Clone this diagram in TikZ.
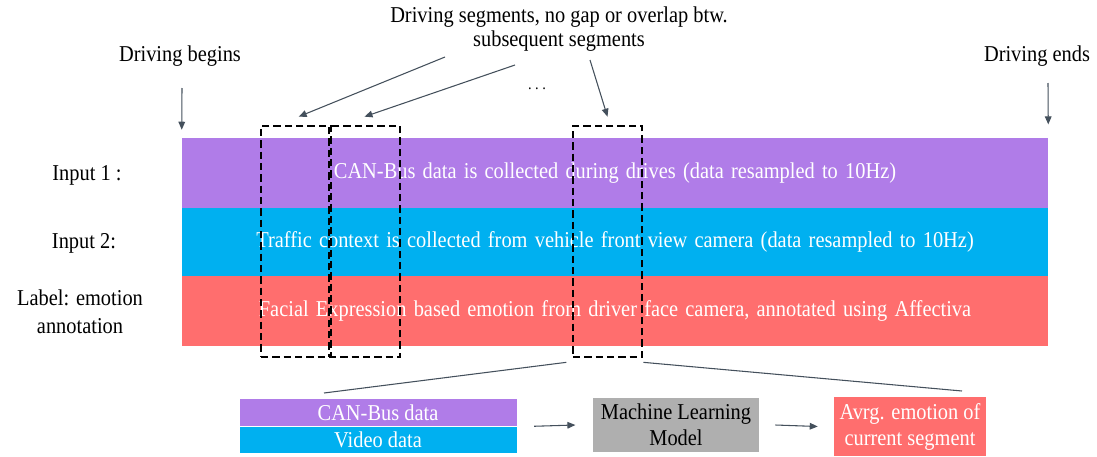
\documentclass[tikz,border=0pt]{standalone}
\usepackage{fontspec}
\setmainfont{Liberation Serif}[FakeStretch=0.9]
\usetikzlibrary{arrows.meta}

\definecolor{canpurple}{HTML}{B07CE8}
\definecolor{vidblue}{HTML}{00B0F0}
\definecolor{emored}{HTML}{FF6E6E}
\definecolor{mlgray}{HTML}{AFAFAF}
\definecolor{ptrgray}{HTML}{44505C}

\newcommand\bandfont{\fontsize{17}{19.5}\selectfont\spaceskip=5.4pt plus 1pt\relax}

\tikzset{
  txt/.style={font=\fontsize{17}{19.5}\selectfont, inner sep=0pt},
  band/.style={font=\bandfont, text=white, minimum width=649.5pt, inner sep=0pt},
  segbox/.style={draw=black, line width=2pt, dash pattern=on 5.5pt off 3pt, minimum height=173.25pt, inner sep=0pt},
  ptr/.style={draw=ptrgray, line width=0.8pt, -{Triangle[length=6pt,width=5pt]}},
  zoomline/.style={draw=ptrgray, line width=0.8pt}
}

\begin{document}
\begin{tikzpicture}[x=0.75pt, y=-0.75pt]
  \useasboundingbox (0,0) rectangle (1097,457);

  % Define the three data bands
  \node[band, fill=canpurple, minimum height=52.5pt] (canband) at (615,173)
    {CAN-Bus data is collected during drives (data resampled to 10Hz)};
  \node[band, fill=vidblue, minimum height=51pt] (vidband) at (615,242)
    {Traffic context is collected from vehicle front view camera (data resampled to 10Hz)};
  \node[band, fill=emored, minimum height=52.5pt] (emoband) at (615,311)
    {Facial Expression based emotion from driver face camera, annotated using Affectiva};

  % Labels on the left
  \node[txt] (in1) at (87,175) {Input 1 :};
  \node[txt] (in2) at (84,243) {Input 2:};
  \node[txt, align=center, font=\fontsize{17}{21}\selectfont] (lab) at (80,312) {Label: emotion\\annotation};

  % Driving segments
  \node[segbox, minimum width=52.5pt] (seg1) at (296,241.5) {};
  \node[segbox, minimum width=53.25pt] (seg2) at (364.5,241.5) {};
  \node[segbox, minimum width=51.75pt] (seg3) at (607.5,241.5) {};

  % Begin and end of the drive
  \node[txt] (begins) at (180,56) {Driving begins};
  \node[txt] (ends) at (1037,56) {Driving ends};
  \coordinate (b0) at (182,88);
  \coordinate (e0) at (1048,83);
  \draw[ptr] (b0) -- ([yshift=6pt]canband.north west);
  \draw[ptr] (e0) -- ([yshift=10pt]canband.north east);

  % Pointers to the segments
  \node[txt, align=center, font=\fontsize{17}{18}\selectfont] (segtxt) at (559,29) {Driving segments, no gap or overlap btw.\\subsequent segments};
  \node[font=\fontsize{12}{12}\selectfont, inner sep=0pt] (dots) at (537,89) {.\ .\ .};
  \coordinate (s1) at (445,57);
  \coordinate (s2) at (515,65);
  \coordinate (s3) at (590,60);
  \draw[ptr] (s1) -- ([xshift=2pt,yshift=6pt]seg1.north);
  \draw[ptr] (s2) -- ([yshift=6pt]seg2.north);
  \draw[ptr] (s3) -- ([yshift=6pt]seg3.north);

  % Model for one segment
  \node[txt, text=white, fill=canpurple, minimum width=207.75pt, minimum height=20.25pt] (canbox) at (378,412.5) {CAN-Bus data};
  \node[txt, text=white, fill=vidblue, minimum width=207.75pt, minimum height=19.5pt, anchor=north] (vidbox) at (canbox.south) {Video data};
  \node[txt, align=center, fill=mlgray, minimum width=124.5pt, minimum height=40.5pt] (mlbox) at (676,425) {Machine Learning\\Model};
  \node[txt, align=center, text=white, fill=emored, minimum width=114pt, minimum height=44.25pt] (outbox) at (910,426.5) {Avrg. emotion of\\current segment};
  \draw[ptr] ([xshift=13pt]canbox.south east) -- ([xshift=-13pt]mlbox.west);
  \draw[ptr] ([xshift=12pt]mlbox.east) -- ([xshift=-12pt]outbox.west);

  % Zoom lines
  \coordinate (zl) at (324,393);
  \coordinate (zr) at (962,391);
  \draw[zoomline] ([xshift=-4pt,yshift=-3pt]seg3.south west) -- (zl);
  \draw[zoomline] ([yshift=-3pt]seg3.south east) -- (zr);
\end{tikzpicture}
\end{document}
